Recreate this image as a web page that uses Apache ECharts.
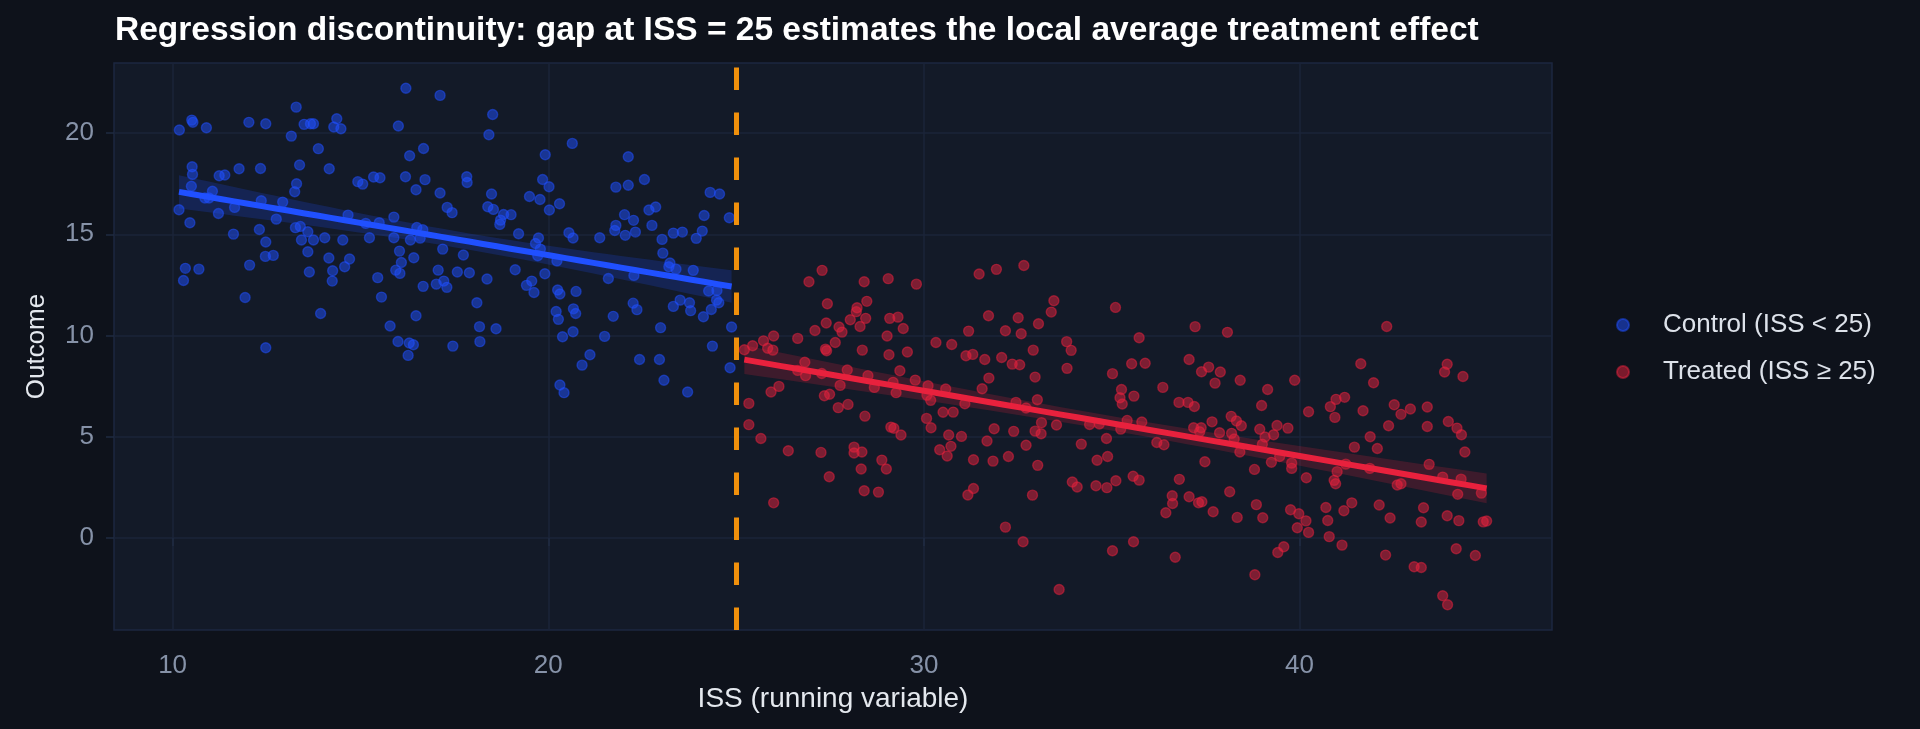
<!DOCTYPE html>
<html>
<head>
<meta charset="utf-8">
<script src="https://cdn.jsdelivr.net/npm/echarts@6/dist/echarts.min.js"></script>
<style>
  html, body { margin: 0; padding: 0; background: #0e121b; }
  #chart { width: 1920px; height: 729px; }
</style>
</head>
<body>
<div id="chart"></div>
<script>
// ISS (running variable) and outcome
const controlIss = [
  10.18,10.51,10.54,10.90,12.03,12.48,13.29,13.16,13.50,13.67,13.75,14.37,14.29,14.48,13.88,16.21,17.12,16.01,16.31,16.68,
  10.52,10.53,10.50,11.24,11.39,11.77,12.34,13.38,14.17,13.30,13.25,11.06,10.86,10.97,10.17,10.46,11.22,11.65,12.36,12.93,
  11.62,12.31,12.48,12.76,13.27,13.40,13.60,13.43,13.75,14.05,14.53,13.60,12.47,12.68,14.16,14.71,14.58,14.26,14.25,13.64,
  12.05,10.34,10.70,10.29,11.93,13.94,12.48,14.93,15.06,15.35,15.52,16.20,16.72,16.48,17.12,17.31,17.44,14.67,15.14,15.50,
  15.89,16.50,16.66,15.24,15.89,16.33,16.59,16.04,16.42,17.19,16.09,15.94,16.05,15.46,15.56,16.67,17.07,17.02,17.22,17.30,
  16.48,15.79,16.00,16.30,16.41,16.27,17.46,
  18.52,18.42,17.83,17.84,18.49,18.39,18.54,18.81,19.01,18.73,18.71,19.21,17.74,17.58,17.90,18.37,19.12,19.42,19.56,19.62,
  18.10,18.17,18.61,18.18,19.92,20.64,19.85,20.02,19.50,19.78,20.03,20.30,20.55,20.66,19.74,19.66,19.79,19.72,20.23,19.91,
  20.25,20.31,20.74,20.21,20.27,20.67,20.73,20.66,20.38,21.11,20.90,20.31,20.42,21.37,21.50,21.73,21.60,22.13,21.80,22.13,
  22.56,22.03,22.27,21.80,21.77,22.05,22.32,22.76,22.68,22.86,23.03,23.05,23.24,23.21,23.40,22.28,22.26,22.36,23.33,23.57,
  23.94,24.10,24.15,24.31,24.56,24.82,23.86,24.27,24.49,24.48,24.54,23.51,23.33,23.76,23.79,24.13,24.34,22.99,24.88,24.37,
  22.43,22.96,23.08,23.71,24.84
];
const controlOutcome = [
  20.15,20.64,20.53,20.26,20.53,20.46,21.28,19.85,20.43,20.46,20.46,20.71,20.30,20.21,19.23,22.21,21.86,20.35,18.88,19.24,
  18.34,17.96,17.37,17.89,17.93,18.24,18.25,18.42,18.24,17.50,17.10,17.13,16.79,16.79,16.21,15.57,16.03,16.33,16.66,16.59,
  15.01,15.24,14.62,15.75,15.33,15.39,15.13,14.72,14.72,14.83,14.72,14.14,13.91,13.96,13.83,13.78,13.40,13.20,12.69,13.14,
  13.48,13.32,13.28,12.72,11.88,11.09,9.40,17.60,17.48,17.83,17.79,17.84,17.70,17.20,17.04,16.33,16.07,15.95,15.54,15.57,
  15.85,15.34,15.23,14.83,14.83,14.72,14.81,14.17,13.84,14.27,13.61,13.23,13.07,12.86,11.90,12.43,13.23,12.54,12.69,12.38,
  10.98,10.47,9.71,9.63,9.55,9.02,9.48,
  20.92,19.92,17.84,17.56,16.99,16.36,16.23,15.98,15.97,15.70,15.49,15.03,13.98,13.14,13.10,12.79,13.25,12.48,12.69,12.13,
  11.62,10.44,10.34,9.70,18.93,19.49,17.71,17.35,16.87,16.72,16.20,16.51,15.08,14.82,14.82,14.55,14.27,13.94,13.68,13.05,
  12.25,12.05,12.18,11.19,10.80,11.32,11.09,10.19,9.94,9.05,8.54,7.56,7.18,14.83,9.96,10.95,12.82,18.83,17.33,17.42,
  17.71,15.97,15.69,15.44,15.19,14.95,15.11,15.44,16.20,16.35,14.75,14.07,13.58,13.40,13.28,12.97,11.60,11.28,15.06,15.11,
  14.80,15.16,15.93,17.07,16.99,15.82,13.22,12.20,12.23,11.75,11.62,11.75,11.44,11.62,11.23,10.93,11.29,10.39,10.42,9.48,
  8.82,8.82,7.79,7.21,8.41
];
const treatedIss = [
  27.29,26.94,28.41,29.05,29.80,31.47,27.43,28.48,28.22,28.20,28.04,28.45,28.30,27.40,27.10,27.74,27.82,27.64,27.38,27.41,
  26.64,26.00,25.73,25.44,25.22,25.84,25.98,26.83,26.64,26.85,27.28,26.14,25.93,25.34,25.34,25.66,26.39,26.00,27.35,27.49,
  27.77,27.96,27.72,27.98,28.43,28.36,28.51,28.68,29.02,29.07,29.09,29.31,29.45,29.56,29.36,29.18,29.26,29.77,27.26,27.48,
  28.14,28.14,28.35,28.33,28.41,28.79,28.88,29.00,29.12,29.20,29.39,30.07,30.19,30.11,30.08,30.18,30.32,30.74,30.58,30.51,
  30.78,30.66,31.00,30.42,30.72,30.62,31.09,31.19,31.12,31.30,31.62,31.55,31.72,31.73,31.32,31.32,31.17,31.68,
  31.93,32.66,33.46,33.39,32.51,33.05,32.17,32.59,35.10,33.80,33.92,32.91,32.07,32.35,32.55,33.81,32.96,35.73,35.53,35.89,
  35.02,35.26,35.22,35.28,35.59,36.36,37.22,38.08,37.06,37.39,37.58,37.89,37.75,38.42,36.79,37.03,37.20,32.45,32.72,33.02,
  31.87,32.39,32.96,33.13,33.12,33.53,34.41,34.67,35.41,35.80,35.24,34.86,34.19,32.72,31.84,32.25,33.03,34.61,34.89,36.20,
  36.39,37.18,37.38,37.34,37.67,37.87,38.18,38.32,38.45,38.19,38.26,38.41,37.48,33.95,34.08,34.58,34.87,35.11,35.57,35.73,
  36.80,36.61,36.62,36.44,37.06,37.31,37.40,37.70,38.14,38.34,32.89,32.17,32.64,33.60,35.02,35.58,36.69,
  42.32,41.63,43.93,43.86,44.35,41.97,39.87,39.15,38.99,40.24,40.97,41.20,40.82,40.94,41.69,42.52,42.70,42.95,43.40,42.37,
  43.40,43.96,44.19,44.31,44.40,38.94,39.08,39.40,39.31,39.69,39.01,38.80,39.25,39.47,39.79,39.79,40.18,41.46,41.88,42.07,
  41.23,41.00,40.92,40.96,41.87,42.60,42.70,43.45,43.81,44.30,44.21,44.84,38.85,39.02,39.76,39.98,40.17,39.94,40.24,40.70,
  40.75,40.79,41.18,41.39,41.13,42.12,42.41,43.30,43.24,43.93,44.24,44.89,44.98,39.58,39.42,38.81,42.29,43.05,43.24,44.17,
  44.68,43.81,43.94
];
const treatedOutcome = [
  13.22,12.66,12.66,12.81,12.54,13.04,11.57,11.69,11.37,11.18,10.78,10.85,10.45,10.62,10.25,10.42,10.17,9.66,9.33,9.25,
  9.86,9.98,9.74,9.50,9.30,9.37,9.28,8.68,8.28,8.02,8.13,7.49,7.21,6.65,5.60,4.92,4.31,1.74,7.03,7.10,
  7.54,8.30,6.44,6.60,6.02,9.28,8.02,7.44,9.98,9.05,10.85,10.91,10.35,9.19,8.26,7.69,7.18,7.80,4.23,3.03,
  4.49,4.20,4.25,3.41,2.34,2.27,3.85,3.41,5.48,5.42,5.09,5.91,5.45,7.52,7.06,6.80,9.66,9.56,7.36,6.21,
  6.22,5.09,5.02,4.36,4.53,4.05,6.63,10.22,9.00,9.07,8.82,7.37,10.98,7.90,3.87,2.45,2.13,4.79,
  13.27,13.46,11.72,11.16,10.88,10.58,10.24,10.09,11.39,9.70,9.27,9.28,8.92,8.59,8.56,8.38,7.95,9.89,8.61,8.63,
  8.12,7.34,6.93,6.62,7.01,7.44,10.44,10.16,8.82,8.21,8.44,8.20,7.65,7.79,6.70,6.70,6.50,6.70,6.42,6.83,
  5.40,5.27,5.28,5.70,5.15,5.58,5.61,5.63,5.81,5.73,5.38,4.92,4.64,4.58,3.80,4.03,3.59,3.84,4.03,4.72,
  4.61,5.45,5.45,5.25,5.74,5.20,6.01,5.78,5.55,5.17,4.89,4.25,3.77,2.77,2.52,2.58,2.49,2.83,3.05,2.86,
  2.90,2.09,1.71,1.25,2.04,1.74,1.79,1.30,2.29,1.02,2.12,0.54,-0.18,-2.54,-0.63,-0.18,-0.95,
  10.45,8.61,8.58,8.20,7.98,7.67,7.79,7.34,6.55,6.24,6.85,6.95,6.49,5.96,6.29,6.58,6.11,6.37,6.47,5.55,
  5.51,5.76,5.43,5.10,4.25,5.37,4.99,5.56,5.10,5.43,4.63,3.39,3.74,4.03,3.70,3.44,2.98,4.49,5.00,4.42,
  3.65,3.28,2.85,2.68,3.44,2.62,2.68,3.64,3.01,2.91,2.16,2.22,1.65,1.00,1.40,1.20,0.85,0.51,0.28,1.51,
  0.87,0.07,1.35,1.74,-0.35,1.63,0.99,1.50,0.79,1.10,0.86,0.80,0.84,-0.43,-0.71,-1.81,-0.84,-1.42,-1.45,-0.53,
  -0.86,-2.85,-3.29
];

const cutoff = 25;
const xTicks = [10, 20, 30, 40];
const yTicks = [0, 5, 10, 15, 20];

const BLUE = '#2050ff';
const RED = '#e8213d';
const FONT = "'Liberation Sans', Arial, sans-serif";

const zip = (xs, ys) => xs.map((x, i) => [x, ys[i]]);

// straight-line least squares fit with a 95% confidence band (like geom_smooth(method = "lm"))
function linearFit(xs, ys) {
  const n = xs.length;
  const mx = xs.reduce((a, b) => a + b, 0) / n;
  const my = ys.reduce((a, b) => a + b, 0) / n;
  let sxx = 0, sxy = 0;
  for (let i = 0; i < n; i++) {
    sxx += (xs[i] - mx) ** 2;
    sxy += (xs[i] - mx) * (ys[i] - my);
  }
  const slope = sxy / sxx;
  const icpt = my - slope * mx;
  let sse = 0;
  for (let i = 0; i < n; i++) sse += (ys[i] - icpt - slope * xs[i]) ** 2;
  const s = Math.sqrt(sse / (n - 2));
  const lo = Math.min(...xs), hi = Math.max(...xs);
  const line = [], upper = [], lower = [];
  for (let k = 0; k <= 40; k++) {
    const x = lo + (hi - lo) * k / 40;
    const y = icpt + slope * x;
    const se = s * Math.sqrt(1 / n + (x - mx) ** 2 / sxx);
    line.push([x, y]);
    upper.push([x, y + 1.97 * se]);
    lower.push([x, y - 1.97 * se]);
  }
  return { line, band: upper.concat(lower.reverse()) };
}

const controlFit = linearFit(controlIss, controlOutcome);
const treatedFit = linearFit(treatedIss, treatedOutcome);

function bandSeries(band, fill) {
  return {
    type: 'custom',
    silent: true,
    z: 3,
    data: [[band[0][0], band[0][1]]],
    renderItem: (params, api) => ({
      type: 'polygon',
      shape: { points: band.map(p => api.coord(p)) },
      style: { fill: fill }
    })
  };
}

function pointSeries(name, data, color) {
  return {
    name: name,
    type: 'scatter',
    data: data,
    symbolSize: 10,
    z: 2,
    itemStyle: { color: color, opacity: 0.5, borderColor: color, borderWidth: 1.4 }
  };
}

function fitLine(line, color) {
  return {
    type: 'line',
    data: line,
    showSymbol: false,
    silent: true,
    z: 4,
    lineStyle: { color: color, width: 6 }
  };
}

const chart = echarts.init(document.getElementById('chart'));

chart.setOption({
  backgroundColor: '#0e121b',
  animation: false,
  textStyle: { fontFamily: FONT },
  title: {
    text: 'Regression discontinuity: gap at ISS = 25 estimates the local average treatment effect',
    left: 110,
    top: 9,
    textStyle: { color: '#ffffff', fontSize: 33.5, fontWeight: 'bold', fontFamily: FONT }
  },
  legend: {
    orient: 'vertical',
    left: 1611,
    top: 307,
    itemGap: 21,
    itemWidth: 70,
    itemHeight: 12,
    icon: 'circle',
    data: ['Control (ISS < 25)', 'Treated (ISS ≥ 25)'],
    textStyle: { color: '#dde2ea', fontSize: 26, fontFamily: FONT }
  },
  grid: {
    left: 114,
    top: 63,
    right: 368,
    bottom: 99,
    show: true,
    backgroundColor: '#131a28',
    borderColor: '#1c2740',
    borderWidth: 1.5
  },
  xAxis: {
    type: 'value',
    min: 8.44,
    max: 46.72,
    name: 'ISS (running variable)',
    nameLocation: 'middle',
    nameGap: 55,
    nameTextStyle: { color: '#e4e8ee', fontSize: 28, fontFamily: FONT },
    axisLine: { show: false },
    axisTick: { show: true, customValues: xTicks, length: 8, lineStyle: { color: '#1f2b42', width: 1.5 } },
    axisLabel: { customValues: xTicks, color: '#8692a8', fontSize: 26, margin: 23, fontFamily: FONT },
    splitLine: { show: true, lineStyle: { color: '#1b2539', width: 1.5 } }
  },
  yAxis: {
    type: 'value',
    min: -4.54,
    max: 23.46,
    name: 'Outcome',
    nameLocation: 'middle',
    nameGap: 64,
    nameTextStyle: { color: '#e4e8ee', fontSize: 26, fontFamily: FONT },
    axisLine: { show: false },
    axisTick: { show: true, customValues: yTicks, length: 8, lineStyle: { color: '#1f2b42', width: 1.5 } },
    axisLabel: { customValues: yTicks, color: '#8692a8', fontSize: 26, margin: 20, fontFamily: FONT },
    splitLine: { show: true, lineStyle: { color: '#1b2539', width: 1.5 } }
  },
  series: [
    pointSeries('Control (ISS < 25)', zip(controlIss, controlOutcome), BLUE),
    pointSeries('Treated (ISS ≥ 25)', zip(treatedIss, treatedOutcome), RED),
    bandSeries(controlFit.band, 'rgba(32,80,255,0.2)'),
    bandSeries(treatedFit.band, 'rgba(232,33,61,0.2)'),
    fitLine(controlFit.line, BLUE),
    fitLine(treatedFit.line, RED),
    {
      type: 'line',
      data: [],
      z: 6,
      markLine: {
        silent: true,
        symbol: ['none', 'none'],
        label: { show: false },
        lineStyle: { color: '#f0900c', width: 5, type: [22.5, 22.5], opacity: 1 },
        data: [{ xAxis: cutoff }]
      }
    }
  ]
});
</script>
</body>
</html>
